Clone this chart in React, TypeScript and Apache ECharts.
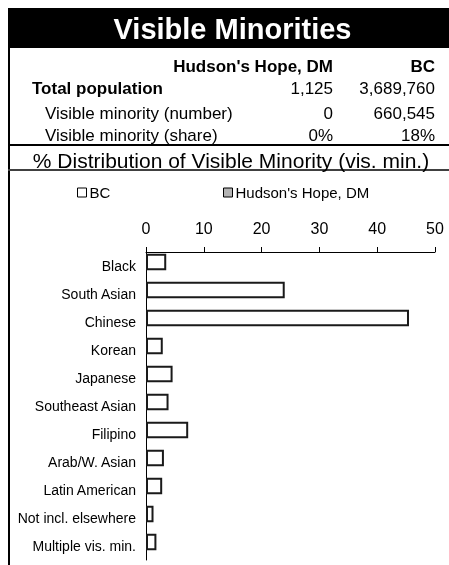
import React, { useEffect, useRef } from "react";
import * as echarts from "echarts";

const categories = [
  "Black",
  "South Asian",
  "Chinese",
  "Korean",
  "Japanese",
  "Southeast Asian",
  "Filipino",
  "Arab/W. Asian",
  "Latin American",
  "Not incl. elsewhere",
  "Multiple vis. min.",
];
const bcValues = [3.5, 24.0, 45.5, 2.9, 4.6, 3.9, 7.3, 3.1, 2.8, 1.3, 1.8];
const hhValues = [0, 0, 0, 0, 0, 0, 0, 0, 0, 0, 0];

const chartTitle = "Visible Minorities";
const subTitle = "% Distribution of Visible Minority (vis. min.)";
const regionNames = ["Hudson's Hope, DM", "BC"];
const statLabels = ["Total population", "Visible minority (number)", "Visible minority (share)"];
const hhStats = ["1,125", "0", "0%"];
const bcStats = ["3,689,760", "660,545", "18%"];

const FONT = "'Liberation Sans', Arial, Helvetica, sans-serif";

export default function App() {
  const ref = useRef<HTMLDivElement>(null);
  useEffect(() => {
    if (!ref.current) return;
    const chart = echarts.init(ref.current, null, { renderer: "svg" });

    const txt = (
      text: string,
      x: number,
      y: number,
      align: string,
      size: number,
      bold: boolean,
      fill = "#000"
    ) => ({
      type: "text",
      x,
      y,
      silent: true,
      style: {
        text,
        fill,
        fontFamily: FONT,
        fontSize: size,
        fontWeight: bold ? "bold" : "normal",
        align,
        verticalAlign: "middle",
      },
    });

    const rowY = [88, 113.7, 135];
    const graphic: any[] = [
      { type: "rect", shape: { x: 8, y: 8, width: 441, height: 40 }, style: { fill: "#000" }, silent: true },
      { type: "line", shape: { x1: 9, y1: 48, x2: 9, y2: 565 }, style: { stroke: "#000", lineWidth: 2 }, silent: true },
      { type: "line", shape: { x1: 8, y1: 145, x2: 449, y2: 145 }, style: { stroke: "#000", lineWidth: 2 }, silent: true },
      { type: "line", shape: { x1: 8, y1: 170, x2: 449, y2: 170 }, style: { stroke: "#404040", lineWidth: 2 }, silent: true },
      txt(chartTitle, 232.5, 29, "center", 29, true, "#fff"),
      txt(regionNames[0], 333, 66.7, "right", 17, true),
      txt(regionNames[1], 435, 66.7, "right", 17, true),
      txt(subTitle, 231, 160, "center", 21, false),
    ];
    statLabels.forEach((lab, i) => {
      const first = i === 0;
      graphic.push(txt(lab, first ? 32 : 45, rowY[i], "left", 17, first));
      graphic.push(txt(hhStats[i], 333, rowY[i], "right", 17, false));
      graphic.push(txt(bcStats[i], 435, rowY[i], "right", 17, false));
    });

    const legendBase = {
      top: 180,
      itemWidth: 9,
      itemHeight: 9,
      icon: "rect",
      itemStyle: { borderWidth: 1, borderColor: "#000" },
      textStyle: { fontSize: 15, color: "#000", fontFamily: FONT, padding: [0, 0, 0, -2] },
      selectedMode: false,
    };

    chart.setOption({
      animation: false,
      textStyle: { fontFamily: FONT },
      graphic,
      legend: [
        { ...legendBase, data: ["BC"], left: 72 },
        { ...legendBase, data: ["Hudson's Hope, DM"], left: 218 },
      ],
      grid: { left: 146, top: 252, right: 14, bottom: 5, containLabel: false },
      xAxis: {
        type: "value",
        position: "top",
        min: 0,
        max: 50,
        interval: 10,
        axisLine: { show: true, lineStyle: { color: "#000", width: 1 } },
        axisTick: { show: true, inside: false, length: 5, lineStyle: { color: "#000" } },
        axisLabel: { fontSize: 16, color: "#000", margin: 16, fontFamily: FONT },
        splitLine: { show: false },
      },
      yAxis: {
        type: "category",
        inverse: true,
        data: categories,
        axisLine: { show: true, lineStyle: { color: "#000", width: 1 } },
        axisTick: { show: false },
        axisLabel: { fontSize: 14, color: "#000", margin: 10, fontFamily: FONT },
      },
      series: [
        {
          name: "BC",
          type: "bar",
          data: bcValues,
          barWidth: 16.5,
          barGap: "-52%",
          itemStyle: { color: "#fff", borderColor: "#1a1a1a", borderWidth: 2 },
        },
        {
          name: "Hudson's Hope, DM",
          type: "bar",
          data: hhValues,
          barWidth: 16.5,
          itemStyle: { color: "#b3b3b3", borderColor: "#1a1a1a", borderWidth: 0 },
        },
      ],
    });
    return () => chart.dispose();
  }, []);

  return (
    <div
      ref={ref}
      style={{ position: "fixed", left: 0, top: 0, width: 449, height: 565 }}
    />
  );
}
